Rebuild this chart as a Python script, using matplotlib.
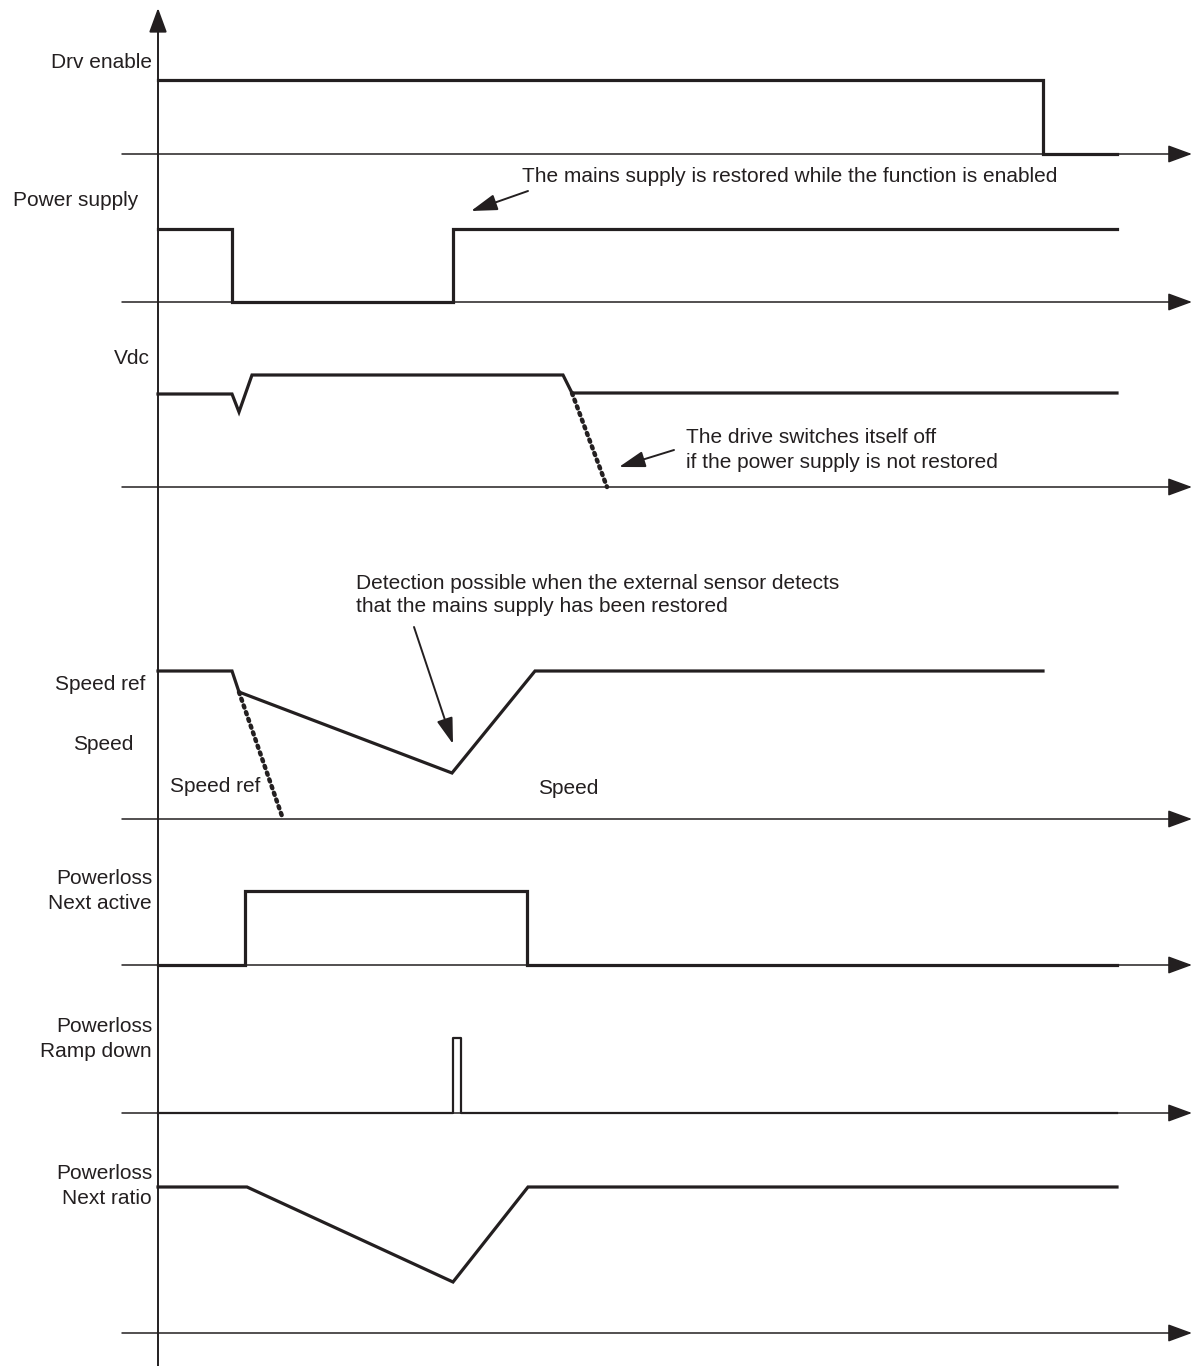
import matplotlib
matplotlib.use("Agg")
import matplotlib.pyplot as plt

INK = "#231f20"

# time axis (picture units, left to right) and lane baselines (top to bottom)
t_start, t_end = 158, 1117
baselines = [154, 302, 487, 819, 965, 1113, 1333]

# Drv enable
drv_t = [158, 1043, 1043, 1117]
drv_y = [80, 80, 154, 154]
# Power supply
ps_t = [158, 232, 232, 453, 453, 1117]
ps_y = [229, 229, 302, 302, 229, 229]
# Vdc
vdc_t = [158, 232, 239, 252, 563, 572, 1117]
vdc_y = [394, 394, 412, 375, 375, 393, 393]
vdc_off_t = [572, 607]
vdc_off_y = [393, 487]
# Speed (solid) and speed ref ramp (dotted)
spd_t = [158, 232, 239, 452, 535, 1043]
spd_y = [671, 671, 692, 773, 671, 671]
ref_t = [239, 283]
ref_y = [692, 819]
# Powerloss Next active
na_t = [158, 245, 245, 527, 527, 1117]
na_y = [965, 965, 891, 891, 965, 965]
# Powerloss Ramp down (short pulse)
rd_t = [158, 453, 453, 461, 461, 1117]
rd_y = [1113, 1113, 1038, 1038, 1113, 1113]
# Powerloss Next ratio
nr_t = [158, 247, 453, 528, 1117]
nr_y = [1187, 1187, 1282, 1187, 1187]

fig = plt.figure(figsize=(11.99, 13.66), dpi=100)
ax = fig.add_axes([0, 0, 1, 1])
ax.set_xlim(0, 1199)
ax.set_ylim(1366, 0)
ax.axis("off")

plt.rcParams["font.family"] = ["Liberation Sans", "DejaVu Sans"]
fs = 15

# vertical axis with arrow
ax.annotate("", xy=(158, 8), xytext=(158, 1370),
            arrowprops=dict(arrowstyle="-|>,head_length=1.5,head_width=0.55",
                            lw=1.4, color=INK, shrinkA=0, shrinkB=0),
            annotation_clip=False)
# horizontal baselines with arrows
for b in baselines:
    ax.annotate("", xy=(1192, b), xytext=(122, b),
                arrowprops=dict(arrowstyle="-|>,head_length=1.5,head_width=0.55",
                                lw=1.1, color=INK, shrinkA=0, shrinkB=0))

sig = dict(color=INK, lw=2.3, solid_joinstyle="miter")
ax.plot(drv_t, drv_y, **sig)
ax.plot(ps_t, ps_y, **sig)
ax.plot(vdc_t, vdc_y, **sig)
ax.plot(spd_t, spd_y, **sig)
ax.plot(na_t, na_y, **sig)
ax.plot(rd_t, rd_y, color=INK, lw=1.6)
ax.plot(nr_t, nr_y, **sig)

dot = dict(color=INK, lw=3.2, linestyle=(0, (0.5, 1.1)), dash_capstyle="round")
ax.plot(vdc_off_t, vdc_off_y, **dot)
ax.plot(ref_t, ref_y, **dot)

# lane labels
side = dict(ha="right", va="center", fontsize=fs, color=INK,
            linespacing=1.4, multialignment="right")
ax.text(152, 62, "Drv enable", **side)
ax.text(138, 200, "Power supply", **side)
ax.text(150, 359, "Vdc", **side)
ax.text(145, 685, "Speed ref", **side)
ax.text(133, 745, "Speed", **side)
ax.text(152, 891, "Powerloss\nNext active", **side)
ax.text(152, 1039, "Powerloss\nRamp down", **side)
ax.text(152, 1186, "Powerloss\nNext ratio", **side)
ax.text(215, 786, "Speed ref", ha="center", va="center", fontsize=fs, color=INK)
ax.text(538, 788, "Speed", ha="left", va="center", fontsize=fs, color=INK)

# annotations
arr = dict(arrowstyle="-|>,head_length=1.6,head_width=0.5", lw=1.4,
           color=INK, shrinkA=0, shrinkB=0)
ax.text(522, 176, "The mains supply is restored while the function is enabled",
        ha="left", va="center", fontsize=fs, color=INK)
ax.annotate("", xy=(471, 211), xytext=(528, 191), arrowprops=arr)

ax.text(686, 450, "The drive switches itself off\nif the power supply is not restored",
        ha="left", va="center", fontsize=fs, color=INK, linespacing=1.35)
ax.annotate("", xy=(619, 467), xytext=(674, 450), arrowprops=arr)

ax.text(356, 595, "Detection possible when the external sensor detects\n"
        "that the mains supply has been restored",
        ha="left", va="center", fontsize=fs, color=INK, linespacing=1.3)
ax.annotate("", xy=(453, 744), xytext=(414, 627), arrowprops=arr)

fig.savefig("out.png", dpi=100)
